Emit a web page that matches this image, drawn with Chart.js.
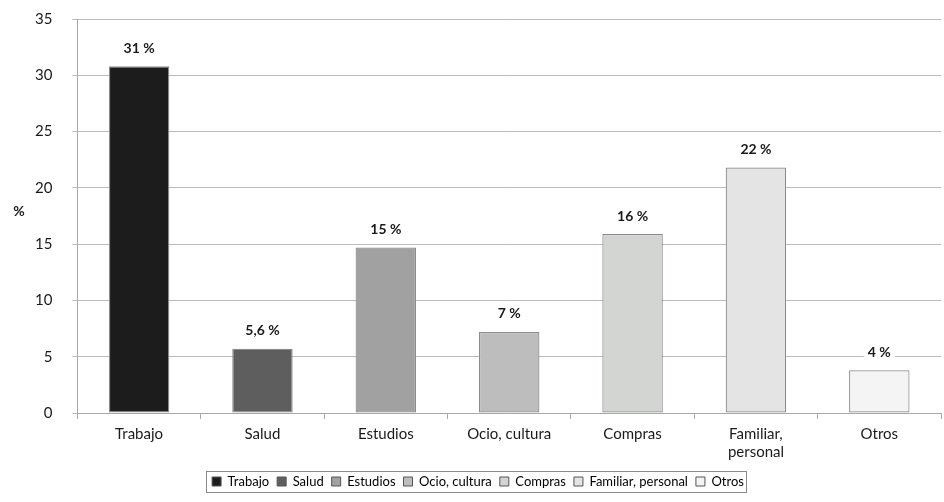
<!DOCTYPE html>
<html>
<head>
<meta charset="utf-8">
<script src="https://cdn.jsdelivr.net/npm/chart.js@4/dist/chart.umd.min.js"></script>
<style>
  html, body { margin: 0; padding: 0; background: #fff; }
  #wrap { width: 944px; height: 502px; }
</style>
</head>
<body>
<div id="wrap"><canvas id="graph" width="944" height="502"></canvas></div>
<script>
// categorias y valores
const categorias = ["Trabajo", "Salud", "Estudios", "Ocio, cultura", "Compras", ["Familiar,", "personal"], "Otros"];
const leyenda = ["Trabajo", "Salud", "Estudios", "Ocio, cultura", "Compras", "Familiar, personal", "Otros"];
const valores = [30.8, 5.7, 14.7, 7.2, 15.9, 21.8, 3.8];
const etiquetas = ["31 %", "5,6 %", "15 %", "7 %", "16 %", "22 %", "4 %"];
const colores = ["#1c1c1c", "#5e5e5e", "#a1a1a1", "#bdbdbd", "#d3d5d3", "#e4e4e4", "#f4f4f4"];
const ticksY = [0, 5, 10, 15, 20, 25, 30, 35];

const fuente = "Lato, 'Open Sans', sans-serif";

// etiquetas encima de cada barra
const etiquetasBarras = {
  id: 'etiquetasBarras',
  afterDatasetsDraw(chart) {
    const ctx = chart.ctx;
    const meta = chart.getDatasetMeta(0);
    ctx.save();
    ctx.font = "bold 14px " + fuente;
    ctx.textAlign = "center";
    ctx.textBaseline = "middle";
    meta.data.forEach((bar, i) => {
      const t = etiquetas[i];
      const w = ctx.measureText(t).width;
      const y = bar.y - 18;
      ctx.fillStyle = "#fff";
      ctx.fillRect(bar.x - w / 2 - 4, y - 8, w + 8, 16);
      ctx.fillStyle = "#1a1a1a";
      ctx.fillText(t, bar.x, y);
    });
    ctx.restore();
  }
};

// titulo "%" horizontal y marco de la leyenda
const extras = {
  id: 'extras',
  afterDraw(chart) {
    const ctx = chart.ctx;
    const y = chart.scales.y;
    ctx.save();
    ctx.font = "bold 14px " + fuente;
    ctx.fillStyle = "#1a1a1a";
    ctx.textAlign = "center";
    ctx.textBaseline = "middle";
    ctx.fillText("%", 19, y.getPixelForValue(17.9));

    const boxes = chart.legend.legendHitBoxes;
    if (boxes && boxes.length) {
      const l = Math.min(...boxes.map(b => b.left));
      const r = Math.max(...boxes.map(b => b.left + b.width));
      const t = Math.min(...boxes.map(b => b.top));
      const b2 = Math.max(...boxes.map(b => b.top + b.height));
      ctx.strokeStyle = "#8a8a8a";
      ctx.lineWidth = 1;
      ctx.strokeRect(Math.round(l - 6) + 0.5, Math.round(t - 4) + 0.5, Math.round(r - l + 8), Math.round(b2 - t + 8));
    }
    ctx.restore();
  }
};

new Chart(document.getElementById("graph"), {
  type: 'bar',
  data: {
    labels: categorias,
    datasets: [{
      label: '%',
      data: valores,
      backgroundColor: colores,
      borderColor: "#8c8c8c",
      borderWidth: 1.2,
      borderSkipped: false,
      barPercentage: 0.49,
      categoryPercentage: 1
    }]
  },
  options: {
    responsive: false,
    animation: false,
    layout: { padding: { left: 15, right: 3, top: 19, bottom: 4 } },
    plugins: {
      tooltip: { enabled: false },
      legend: {
        position: 'bottom',
        labels: {
          font: { family: fuente, size: 13 },
          color: "#1a1a1a",
          boxWidth: 9,
          boxHeight: 9,
          padding: 8,
          generateLabels: () => leyenda.map((n, i) => ({
            text: n,
            fillStyle: colores[i],
            strokeStyle: "#555",
            lineWidth: 1,
            index: i
          }))
        }
      }
    },
    scales: {
      x: {
        offset: true,
        grid: { display: true, drawOnChartArea: false, drawTicks: true, tickLength: 6, color: "#a8a8a8", offset: true },
        border: { color: "#a8a8a8" },
        ticks: { font: { family: fuente, size: 15 }, color: "#1a1a1a", padding: 6 }
      },
      y: {
        min: 0,
        max: 35,
        afterBuildTicks: s => { s.ticks = ticksY.map(v => ({ value: v })); },
        afterFit: s => { s.paddingTop = 0; s.paddingBottom = 0; },
        grid: { color: "#bcbcbc", tickLength: 5 },
        border: { color: "#a8a8a8" },
        ticks: { font: { family: fuente, size: 15 }, color: "#1a1a1a", padding: 20 }
      }
    }
  },
  plugins: [etiquetasBarras, extras]
});
</script>
</body>
</html>
